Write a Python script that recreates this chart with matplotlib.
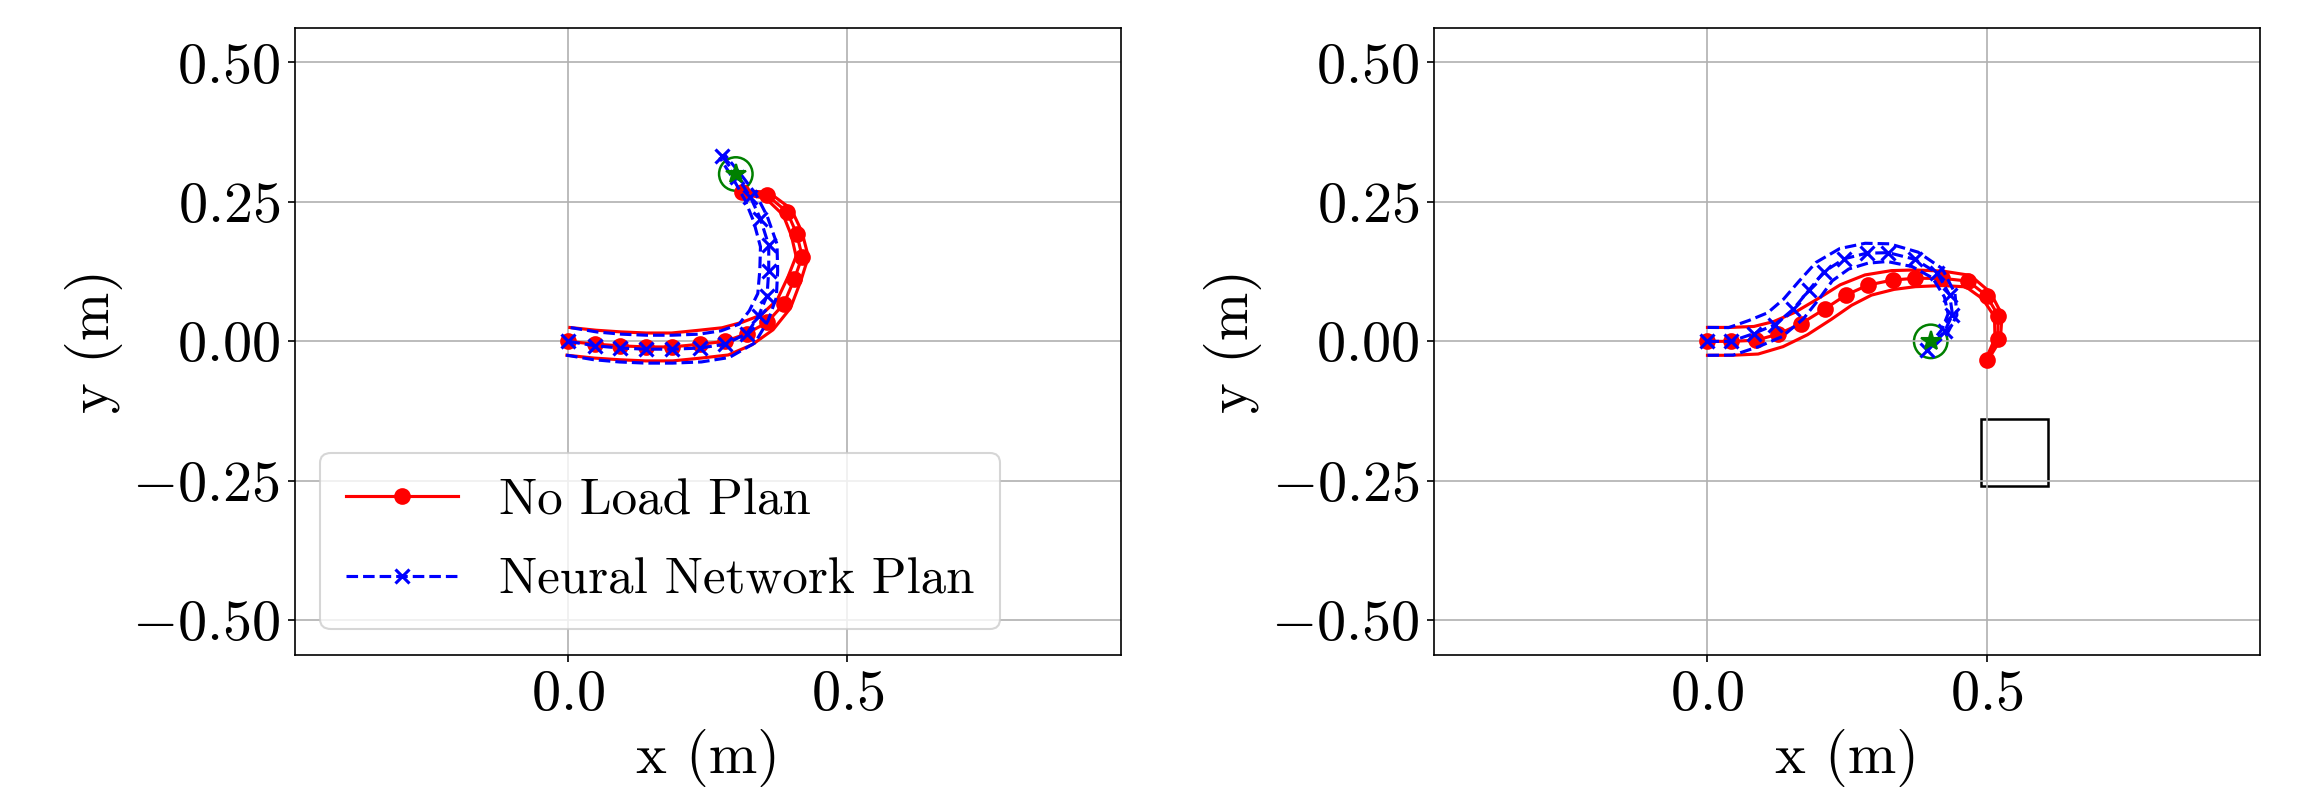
import matplotlib
matplotlib.use("Agg")
import numpy as np
import matplotlib.pyplot as plt
from matplotlib.patches import Circle, Rectangle

plt.rcParams['font.family'] = 'serif'
plt.rcParams['font.serif'] = ['cmr10']
plt.rcParams['mathtext.fontset'] = 'cm'
plt.rcParams['axes.formatter.use_mathtext'] = True
plt.rcParams['font.size'] = 28

# --- dati (metri) ---
# pannello sinistro: goal (0.3, 0.3)
left_noload_x = [0.0, 0.048, 0.093, 0.139, 0.186, 0.236, 0.281, 0.320,
                 0.356, 0.386, 0.405, 0.419, 0.409, 0.392, 0.356, 0.311]
left_noload_y = [0.0, -0.005, -0.008, -0.010, -0.010, -0.005, 0.000, 0.014,
                 0.034, 0.067, 0.112, 0.152, 0.193, 0.232, 0.262, 0.267]
left_noload_w = [0.025, 0.025, 0.025, 0.025, 0.025, 0.025, 0.025, 0.022,
                 0.017, 0.014, 0.012, 0.011, 0.010, 0.009, 0.006, 0.003]
left_nn_x = [0.0, 0.048, 0.093, 0.139, 0.186, 0.236, 0.281, 0.320,
             0.341, 0.356, 0.359, 0.359, 0.344, 0.326, 0.303, 0.275]
left_nn_y = [0.0, -0.008, -0.012, -0.014, -0.014, -0.012, -0.005, 0.014,
             0.046, 0.082, 0.127, 0.172, 0.220, 0.259, 0.294, 0.333]
left_nn_w = [0.025, 0.025, 0.025, 0.025, 0.025, 0.025, 0.025, 0.022,
             0.019, 0.017, 0.016, 0.015, 0.013, 0.011, 0.008, 0.005]
left_goal = (0.30, 0.30)

# pannello destro: goal (0.4, 0.0) con ostacolo quadrato
right_noload_x = [0.0, 0.042, 0.087, 0.127, 0.168, 0.210, 0.248, 0.288,
                  0.332, 0.372, 0.421, 0.467, 0.500, 0.521, 0.520, 0.500]
right_noload_y = [0.0, 0.0, 0.002, 0.013, 0.032, 0.058, 0.083, 0.101,
                  0.110, 0.113, 0.113, 0.108, 0.082, 0.046, 0.004, -0.034]
right_noload_w = [0.025, 0.025, 0.025, 0.024, 0.023, 0.022, 0.021, 0.019,
                  0.017, 0.015, 0.013, 0.011, 0.009, 0.007, 0.005, 0.002]
right_nn_x = [0.0, 0.042, 0.083, 0.121, 0.154, 0.182, 0.209, 0.245,
              0.285, 0.324, 0.372, 0.412, 0.434, 0.439, 0.425, 0.394]
right_nn_y = [0.0, 0.0, 0.014, 0.030, 0.058, 0.092, 0.125, 0.148,
              0.158, 0.159, 0.147, 0.122, 0.083, 0.048, 0.018, -0.016]
right_nn_w = [0.025, 0.025, 0.025, 0.025, 0.025, 0.024, 0.022, 0.020,
              0.018, 0.016, 0.014, 0.012, 0.010, 0.008, 0.006, 0.003]
right_goal = (0.40, 0.0)
obstacle_corner = (0.49, -0.26)
obstacle_size = 0.12

goal_radius = 0.03


def offset_lines(x, y, w):
    # bordi della traiettoria, spostati lungo la normale di +/- w
    x = np.asarray(x)
    y = np.asarray(y)
    w = np.asarray(w)
    tx = np.gradient(x)
    ty = np.gradient(y)
    norm = np.hypot(tx, ty)
    nx, ny = -ty / norm, tx / norm
    return (x + w * nx, y + w * ny), (x - w * nx, y - w * ny)


def draw_panel(ax, nl_x, nl_y, nl_w, nn_x, nn_y, nn_w, goal, legend=False):
    for ex, ey in offset_lines(nl_x, nl_y, nl_w):
        ax.plot(ex, ey, 'r-', lw=1.5)
    ax.plot(nl_x, nl_y, 'ro-', lw=1.5, ms=7, label='No Load Plan')
    for ex, ey in offset_lines(nn_x, nn_y, nn_w):
        ax.plot(ex, ey, 'b--', lw=1.5)
    ax.plot(nn_x, nn_y, 'bx--', lw=1.5, ms=7, mew=1.5, label='Neural Network Plan')
    ax.plot(goal[0], goal[1], 'g*', ms=10)
    ax.add_patch(Circle(goal, goal_radius, fill=False, edgecolor='green', lw=1.2))

    ax.set_xlim(-0.49, 0.99)
    ax.set_ylim(-0.562, 0.562)
    ax.set_xticks([0.0, 0.5])
    ax.set_yticks([-0.5, -0.25, 0.0, 0.25, 0.5])
    ax.set_xlabel("x (m)")
    ax.set_ylabel("y (m)")
    ax.grid(True)
    if legend:
        ax.legend(loc='lower left', fontsize=24.5, handlelength=2.2,
                  labelspacing=0.66, borderpad=0.5)


fig = plt.figure(figsize=(15.36, 5.26), dpi=150)
ax1 = fig.add_axes([0.128, 0.170, 0.3585, 0.7947])
ax2 = fig.add_axes([0.6224, 0.170, 0.3585, 0.7947])

draw_panel(ax1, left_noload_x, left_noload_y, left_noload_w,
           left_nn_x, left_nn_y, left_nn_w, left_goal, legend=True)
draw_panel(ax2, right_noload_x, right_noload_y, right_noload_w,
           right_nn_x, right_nn_y, right_nn_w, right_goal)
ax2.add_patch(Rectangle(obstacle_corner, obstacle_size, obstacle_size,
                        fill=False, edgecolor='black', lw=1.2))

fig.savefig("out.png", dpi=150)
